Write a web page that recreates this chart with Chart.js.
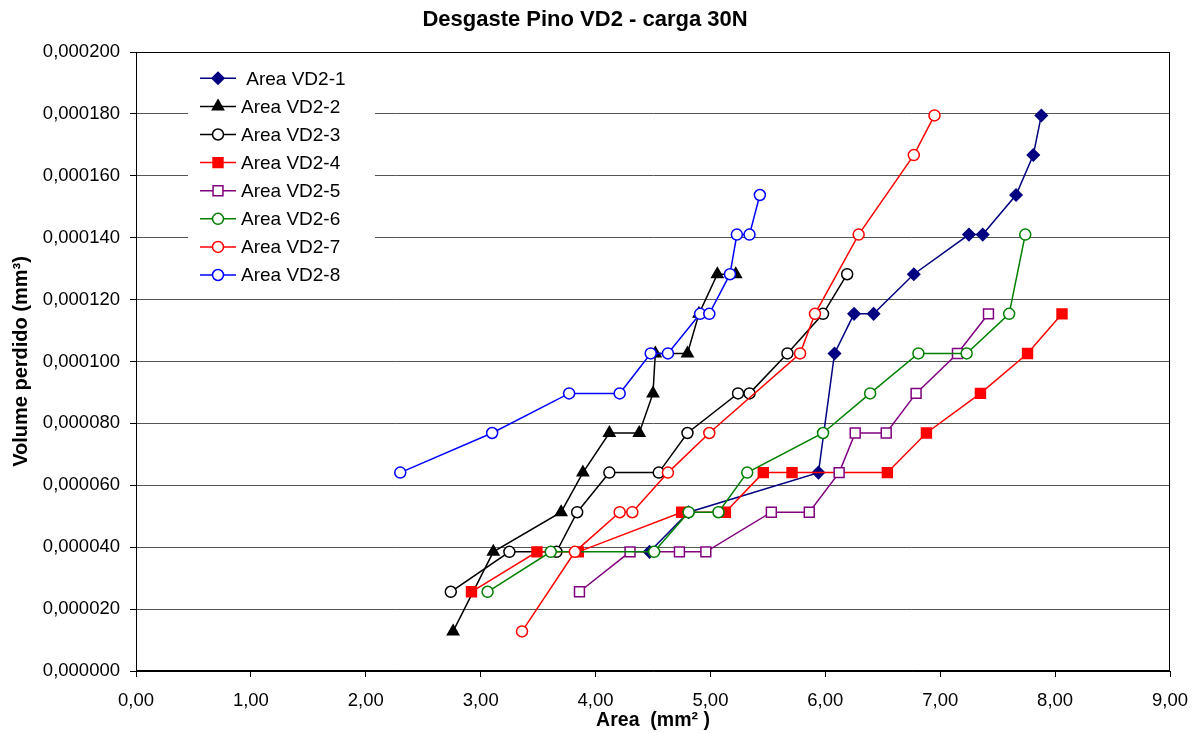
<!DOCTYPE html>
<html><head><meta charset="utf-8">
<script src="https://cdn.jsdelivr.net/npm/chart.js@4/dist/chart.umd.min.js"></script>
<style>html,body{margin:0;padding:0;background:#fff;}#wrap{width:1197px;height:733px;}</style>
</head><body><div id="wrap"><canvas id="c" width="1197" height="733"></canvas></div>
<script>
const FONT = "'Liberation Sans', Arial, sans-serif";
const chartTitle = 'Desgaste Pino VD2 - carga 30N';
const xTitle = 'Area  (mm² )';
const yTitle = 'Volume perdido (mm³)';
const seriesNames = [' Area VD2-1', 'Area VD2-2', 'Area VD2-3', 'Area VD2-4', 'Area VD2-5', 'Area VD2-6', 'Area VD2-7', 'Area VD2-8'];

const area1 = [4.47, 4.81, 5.94, 6.08, 6.25, 6.42, 6.77, 7.25, 7.37, 7.66, 7.81, 7.88];
const vol1  = [0.0000385, 0.0000513, 0.0000641, 0.0001026, 0.0001154, 0.0001154, 0.0001282, 0.0001410, 0.0001410, 0.0001538, 0.0001667, 0.0001795];
const area2 = [2.76, 3.11, 3.70, 3.89, 4.12, 4.38, 4.50, 4.52, 4.80, 4.90, 5.06, 5.22];
const vol2  = [0.0000128, 0.0000385, 0.0000513, 0.0000641, 0.0000769, 0.0000769, 0.0000897, 0.0001026, 0.0001026, 0.0001154, 0.0001282, 0.0001282];
const area3 = [2.74, 3.25, 3.66, 3.84, 4.12, 4.55, 4.80, 5.24, 5.34, 5.67, 5.98, 6.19];
const vol3  = [0.0000256, 0.0000385, 0.0000385, 0.0000513, 0.0000641, 0.0000641, 0.0000769, 0.0000897, 0.0000897, 0.0001026, 0.0001154, 0.0001282];
const area4 = [2.92, 3.49, 3.85, 4.75, 5.13, 5.46, 5.71, 6.54, 6.88, 7.35, 7.76, 8.06];
const vol4  = [0.0000256, 0.0000385, 0.0000385, 0.0000513, 0.0000513, 0.0000641, 0.0000641, 0.0000641, 0.0000769, 0.0000897, 0.0001026, 0.0001154];
const area5 = [3.86, 4.30, 4.73, 4.96, 5.53, 5.86, 6.12, 6.26, 6.53, 6.79, 7.15, 7.42];
const vol5  = [0.0000256, 0.0000385, 0.0000385, 0.0000385, 0.0000513, 0.0000513, 0.0000641, 0.0000769, 0.0000769, 0.0000897, 0.0001026, 0.0001154];
const area6 = [3.06, 3.61, 4.51, 4.81, 5.07, 5.32, 5.98, 6.39, 6.81, 7.23, 7.60, 7.74];
const vol6  = [0.0000256, 0.0000385, 0.0000385, 0.0000513, 0.0000513, 0.0000641, 0.0000769, 0.0000897, 0.0001026, 0.0001026, 0.0001154, 0.0001410];
const area7 = [3.36, 3.82, 4.21, 4.32, 4.63, 4.99, 5.78, 5.91, 6.29, 6.77, 6.95];
const vol7  = [0.0000128, 0.0000385, 0.0000513, 0.0000513, 0.0000641, 0.0000769, 0.0001026, 0.0001154, 0.0001410, 0.0001667, 0.0001795];
const area8 = [2.30, 3.10, 3.77, 4.21, 4.48, 4.63, 4.91, 4.99, 5.17, 5.23, 5.34, 5.43];
const vol8  = [0.0000641, 0.0000769, 0.0000897, 0.0000897, 0.0001026, 0.0001026, 0.0001154, 0.0001154, 0.0001282, 0.0001410, 0.0001410, 0.0001538];

const xTicksMin = 0, xTicksMax = 9, xStep = 1;
const yTicksMin = 0, yTicksMax = 0.0002, yStep = 0.00002;

const areas = [area1, area2, area3, area4, area5, area6, area7, area8];
const vols = [vol1, vol2, vol3, vol4, vol5, vol6, vol7, vol8];
const styles = [
  {color: '#000080', point: 'rectRot', fill: '#000080', r: 6},
  {color: '#000000', point: 'triangle', fill: '#000000', r: 6.5},
  {color: '#000000', point: 'circle', fill: '#ffffff', r: 5.5},
  {color: '#ff0000', point: 'rect', fill: '#ff0000', r: 7},
  {color: '#800080', point: 'rect', fill: '#ffffff', r: 7},
  {color: '#008000', point: 'circle', fill: '#ffffff', r: 5.5},
  {color: '#ff0000', point: 'circle', fill: '#ffffff', r: 5.5},
  {color: '#0000ff', point: 'circle', fill: '#ffffff', r: 5.5}
];

const datasets = seriesNames.map((name, i) => ({
  label: name,
  data: areas[i].map((a, k) => ({x: a, y: vols[i][k]})),
  borderColor: styles[i].color,
  backgroundColor: styles[i].fill,
  borderWidth: 1.5,
  pointStyle: styles[i].point,
  pointRadius: styles[i].r,
  pointHoverRadius: styles[i].r,
  pointBackgroundColor: styles[i].fill,
  pointBorderColor: styles[i].color,
  pointBorderWidth: 1.5,
  showLine: true,
  fill: false,
  tension: 0,
  order: 8 - i
}));

const boxLegend = {
  id: 'boxLegend',
  beforeDatasetsDraw(chart) {
    const ctx = chart.ctx, a = chart.chartArea;
    ctx.save();
    ctx.strokeStyle = '#000'; ctx.lineWidth = 1;
    ctx.strokeRect(Math.round(a.left) + 0.5, Math.round(a.top) + 0.5, Math.round(a.right - a.left) - 1, Math.round(a.bottom - a.top) - 1);
    ctx.fillStyle = '#fff';
    ctx.fillRect(188, 64, 187, 226);
    chart.data.datasets.forEach((ds, i) => {
      const y = 78.3 + i * 28.1;
      ctx.strokeStyle = ds.borderColor; ctx.lineWidth = 1.5;
      ctx.beginPath(); ctx.moveTo(200, y); ctx.lineTo(236, y); ctx.stroke();
      ctx.fillStyle = ds.pointBackgroundColor; ctx.strokeStyle = ds.pointBorderColor; ctx.lineWidth = ds.pointBorderWidth;
      Chart.helpers.drawPoint(ctx, {pointStyle: ds.pointStyle, radius: ds.pointRadius, rotation: 0, borderWidth: ds.pointBorderWidth}, 218, y);
      ctx.fillStyle = '#000'; ctx.font = '19px ' + FONT; ctx.textBaseline = 'middle'; ctx.textAlign = 'left';
      ctx.fillText(ds.label, 241, y + 1);
    });
    ctx.restore();
  }
};

new Chart(document.getElementById('c'), {
  type: 'scatter',
  data: {datasets},
  plugins: [boxLegend],
  options: {
    responsive: false,
    animation: false,
    layout: {padding: {left: 0, right: 27, top: 0, bottom: 0}},
    plugins: {
      legend: {display: false},
      tooltip: {enabled: false},
      title: {display: true, text: chartTitle, color: '#000', font: {family: FONT, size: 22, weight: 'bold'}, padding: {top: 7, bottom: 18.6}}
    },
    scales: {
      x: {
        type: 'linear', position: 'bottom', min: xTicksMin, max: xTicksMax,
        ticks: {stepSize: xStep, color: '#000', font: {family: FONT, size: 18.5}, padding: 13, maxRotation: 0,
          callback: v => Number(v).toFixed(2).replace('.', ',')},
        grid: {drawOnChartArea: false, drawTicks: true, tickLength: 6, tickColor: '#000'},
        border: {display: true, color: '#000', width: 1},
        title: {display: true, text: xTitle, color: '#000', font: {family: FONT, size: 19.5, weight: 'bold'}, padding: {top: 0, bottom: 1}},
        afterFit(s) { s.height = 62; s.paddingLeft = 0; s.paddingRight = 0; }
      },
      y: {
        type: 'linear', position: 'left', min: yTicksMin, max: yTicksMax,
        ticks: {stepSize: yStep, color: '#000', font: {family: FONT, size: 18.5}, padding: 10,
          callback: v => Number(v).toFixed(6).replace('.', ',')},
        grid: {color: '#555', lineWidth: 1, tickLength: 6, tickColor: '#000'},
        border: {display: true, color: '#000', width: 1},
        title: {display: true, text: yTitle, color: '#000', font: {family: FONT, size: 20, weight: 'bold'}, padding: {top: 9, bottom: 0}},
        afterFit(s) { s.width = 136; s.paddingTop = 0; s.paddingBottom = 0; }
      }
    }
  }
});
</script>
</body></html>
